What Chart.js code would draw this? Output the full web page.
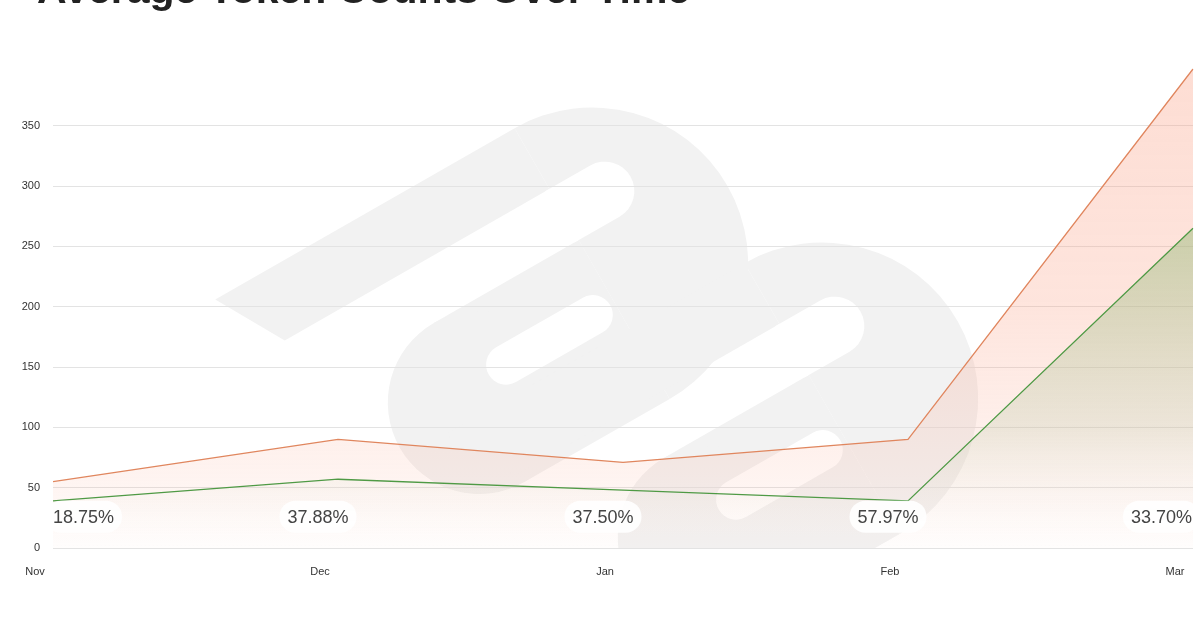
<!DOCTYPE html>
<html lang="en">
<head>
<meta charset="UTF-8">
<title>Token Counts Over Time</title>
<script src="https://cdn.jsdelivr.net/npm/chart.js@4.4.1/dist/chart.umd.min.js"></script>
<style>
  html, body { margin: 0; padding: 0; background: #fff; overflow: hidden; }
  #wrap { position: relative; width: 1200px; height: 628px; }
  #title { position: absolute; left: 37px; top: -31px; font: bold 41px "Liberation Sans", Arial, sans-serif; line-height: 41px; color: #222; white-space: nowrap; }
  canvas { position: absolute; left: 0; top: 0; }
</style>
</head>
<body>
<div id="wrap">
  <canvas id="myChart" width="1200" height="628"></canvas>
  <div id="title">Average Token Counts Over Time</div>
</div>
<script>
var months = ['Nov', 'Dec', 'Jan', 'Feb', 'Mar'];
var totalTokens = [55, 90, 71, 90, 397];
var cachedTokens = [39, 57, 48, 39, 265];
var shareLabels = ['18.75%', '37.88%', '37.50%', '57.97%', '33.70%'];

// faint logo behind the plot
function drawHook(ctx, ox, oy) {
    ctx.save();
    ctx.translate(ox, oy);
    ctx.rotate(Math.atan2(-0.497, 0.868));
    ctx.fillStyle = '#f2f2f2';
    ctx.beginPath();
    ctx.moveTo(-20, -35);
    ctx.lineTo(325, -35);
    ctx.lineTo(325, 35);
    ctx.lineTo(20, 35);
    ctx.closePath();
    ctx.fill();
    ctx.fillRect(158, 94, 167, 183);
    ctx.beginPath();
    ctx.arc(158, 185.5, 91.5, 0, Math.PI * 2);
    ctx.fill();
    ctx.beginPath();
    ctx.arc(325, 121, 156, -Math.PI / 2, Math.PI / 2);
    ctx.fill();
    ctx.fillStyle = '#ffffff';
    ctx.beginPath();
    ctx.moveTo(320, 35);
    ctx.lineTo(372, 35);
    ctx.arc(372, 64.5, 29.5, -Math.PI / 2, Math.PI / 2);
    ctx.lineTo(320, 94);
    ctx.fill();
    ctx.beginPath();
    ctx.moveTo(200, 146);
    ctx.lineTo(300, 146);
    ctx.arc(300, 166, 20, -Math.PI / 2, Math.PI / 2);
    ctx.lineTo(200, 186);
    ctx.arc(200, 166, 20, Math.PI / 2, Math.PI * 1.5);
    ctx.fill();
    ctx.restore();
}

var logoPlugin = {
    id: 'logo',
    beforeDraw: function (chart) {
        var ctx = chart.ctx;
        var a = chart.chartArea;
        ctx.save();
        ctx.beginPath();
        ctx.rect(a.left, 0, a.right - a.left, a.bottom);
        ctx.clip();
        drawHook(ctx, 250, 320);
        drawHook(ctx, 480, 455);
        ctx.restore();
    }
};

var sharePlugin = {
    id: 'shares',
    afterDatasetsDraw: function (chart) {
        var ctx = chart.ctx;
        var xs = chart.scales.x, ys = chart.scales.y;
        var a = chart.chartArea;
        ctx.save();
        ctx.font = '18px "Liberation Sans", Arial, sans-serif';
        ctx.textAlign = 'center';
        ctx.textBaseline = 'middle';
        for (var i = 0; i < shareLabels.length; i++) {
            var w = ctx.measureText(shareLabels[i]).width + 16;
            var h = 32;
            var x = xs.getPixelForValue(i) - 20;
            x = Math.max(a.left - 8 + w / 2, Math.min(1200 - w / 2, x));
            var y = ys.getPixelForValue(26);
            ctx.fillStyle = 'rgba(255,255,255,0.9)';
            ctx.beginPath();
            ctx.roundRect(x - w / 2, y - h / 2, w, h, 16);
            ctx.fill();
            ctx.fillStyle = '#444';
            ctx.fillText(shareLabels[i], x, y + 1);
        }
        ctx.restore();
    }
};

function fillGrad(stops) {
    return function (c) {
        var a = c.chart.chartArea;
        if (!a) return 'rgba(0,0,0,0)';
        var g = c.chart.ctx.createLinearGradient(0, a.top, 0, a.bottom);
        stops.forEach(function (s) { g.addColorStop(s[0], s[1]); });
        return g;
    };
}

var ctx = document.getElementById('myChart');
var myChart = new Chart(ctx, {
    type: 'line',
    data: {
        labels: months,
        datasets: [{
            label: 'cached',
            data: cachedTokens,
            borderColor: '#4f9a45',
            borderWidth: 1.3,
            pointRadius: 0,
            tension: 0,
            fill: 'origin',
            backgroundColor: fillGrad([[0, 'rgba(145,185,115,0.62)'], [0.35, 'rgba(155,188,125,0.5)'], [0.75, 'rgba(195,205,175,0.3)'], [1, 'rgba(255,255,255,0)']])
        }, {
            label: 'total',
            data: totalTokens,
            borderColor: '#e0865e',
            borderWidth: 1.3,
            pointRadius: 0,
            tension: 0,
            fill: 'origin',
            backgroundColor: fillGrad([[0, 'rgba(250,150,120,0.32)'], [0.5, 'rgba(250,150,120,0.25)'], [0.85, 'rgba(250,150,120,0.11)'], [1, 'rgba(250,150,120,0.02)']])
        }]
    },
    options: {
        responsive: false,
        animation: false,
        layout: { padding: { left: 0, right: 7, top: 69, bottom: 0 } },
        plugins: { legend: { display: false }, tooltip: { enabled: false } },
        scales: {
            x: {
                grid: { display: false },
                border: { display: false },
                ticks: { color: '#333', font: { family: 'Liberation Sans', size: 11 }, padding: 9, labelOffset: -18, maxRotation: 0 },
                afterFit: function (s) { s.height = 80; s.paddingLeft = 0; s.paddingRight = 0; }
            },
            y: {
                min: 0,
                bounds: 'data',
                grid: { color: '#e3e3e3', drawTicks: false },
                border: { display: false },
                ticks: { stepSize: 50, color: '#333', font: { family: 'Liberation Sans', size: 11 }, padding: 13 },
                afterBuildTicks: function (s) { s.ticks = s.ticks.filter(function (t) { return t.value % 50 === 0; }); },
                afterFit: function (s) { s.width = 53; }
            }
        }
    },
    plugins: [logoPlugin, sharePlugin]
});
</script>
</body>
</html>
